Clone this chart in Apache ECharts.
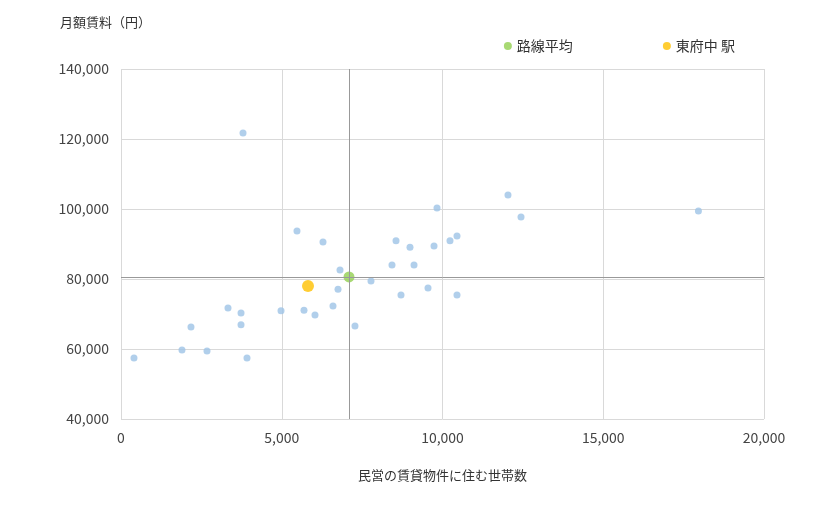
<!DOCTYPE html>
<html>
<head>
<meta charset="utf-8">
<script src="https://cdn.jsdelivr.net/npm/echarts@6/dist/echarts.min.js"></script>
<style>html,body{margin:0;padding:0;background:#fff}#c{width:820px;height:510px}</style>
</head>
<body>
<div id="c"></div>
<script>
// 各駅：世帯数, 月額賃料
const stationHouseholds = [404, 1897, 2177, 2675, 3328, 3733, 3733, 3795, 3919, 4977, 5474, 5692, 6034, 6283, 6594, 6750, 6812, 7278, 7776, 8429, 8554, 8709, 8989, 9114, 9549, 9736, 9829, 10233, 10451, 10451, 12037, 12442, 17960];
const stationRents = [57400, 59700, 66300, 59400, 71700, 70300, 66900, 121700, 57400, 70900, 93700, 71100, 69700, 90600, 72300, 77100, 82600, 66600, 79400, 84000, 90900, 75400, 89100, 84000, 77400, 89400, 100300, 90900, 92300, 75400, 104000, 97700, 99400];
const lineAverage = [7092, 80600];
const targetStation = [5816, 78000];

const font = 'Meiryo, "Noto Sans CJK JP", sans-serif';
const chart = echarts.init(document.getElementById('c'));
chart.setOption({
  animation: false,
  textStyle: { fontFamily: font },
  grid: { left: 121, right: 56, top: 69, bottom: 91 },
  legend: {
    top: 34, right: 80, itemGap: 90, icon: 'circle', itemWidth: 8, itemHeight: 8,
    data: ['路線平均', '東府中 駅'],
    textStyle: { fontSize: 14, color: '#333', fontFamily: font }
  },
  xAxis: {
    type: 'value', min: 0, max: 20000, interval: 5000,
    name: '民営の賃貸物件に住む世帯数', nameLocation: 'middle', nameGap: 50,
    nameTextStyle: { fontSize: 13, color: '#333' },
    axisLine: { show: false }, axisTick: { show: false },
    axisLabel: { fontSize: 14, color: '#444', margin: 12 },
    splitLine: { lineStyle: { color: '#d9d9d9' } }
  },
  yAxis: {
    type: 'value', min: 40000, max: 140000, interval: 20000,
    name: '月額賃料（円）', nameGap: 40,
    nameTextStyle: { fontSize: 13, color: '#333', align: 'right', padding: [0, -30, 0, 0] },
    axisLine: { show: false }, axisTick: { show: false },
    axisLabel: { fontSize: 14, color: '#444', margin: 12 },
    splitLine: { lineStyle: { color: '#d9d9d9' } }
  },
  series: [
    {
      name: '駅', type: 'scatter', symbolSize: 7,
      itemStyle: { color: '#9dc3e6' },
      data: stationHouseholds.map((x, i) => [x, stationRents[i]])
    },
    {
      name: '路線平均', type: 'scatter', symbolSize: 11,
      itemStyle: { color: '#92d050' },
      data: [lineAverage],
      markLine: {
        silent: true, symbol: 'none', label: { show: false },
        lineStyle: { color: '#999', type: 'solid', width: 1 },
        data: [{ xAxis: lineAverage[0] }, { yAxis: lineAverage[1] }]
      }
    },
    {
      name: '東府中 駅', type: 'scatter', symbolSize: 12,
      itemStyle: { color: '#ffc000' },
      data: [targetStation]
    }
  ]
});
</script>
</body>
</html>
